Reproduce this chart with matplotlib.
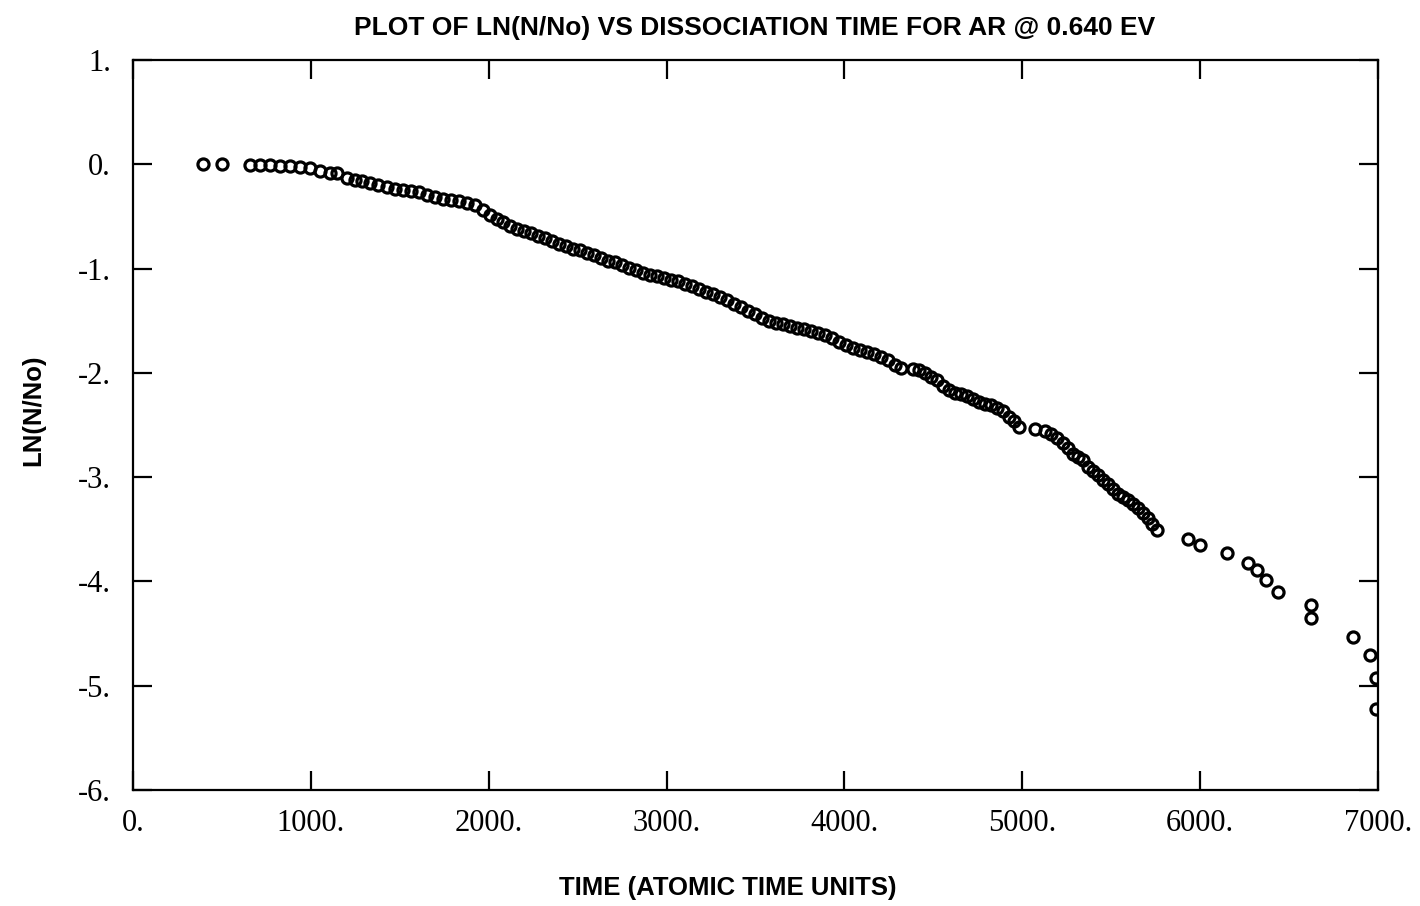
import numpy as np
import matplotlib
matplotlib.use('Agg')
import matplotlib.pyplot as plt

# Время диссоциации (атомные единицы времени)
time_au = [395, 500,
           660, 715, 770, 825, 880, 940, 995, 1050, 1105, 1145,
           1205, 1248, 1287, 1332, 1377, 1428, 1473, 1518, 1563, 1608,
           1653, 1698, 1743, 1788, 1832, 1877, 1922, 1967, 2007, 2046,
           2080, 2119, 2158, 2198, 2237, 2277, 2316, 2355, 2395, 2434,
           2473, 2513, 2552, 2591, 2631, 2670, 2709, 2749, 2788, 2827,
           2867, 2906, 2945, 2985, 3024, 3063, 3103, 3142, 3181, 3221,
           3260, 3300, 3339, 3378, 3418, 3457, 3496, 3536, 3575, 3614,
           3654, 3693, 3732, 3772, 3811, 3850, 3890, 3929, 3968, 4008,
           4047, 4086, 4126, 4165, 4205, 4244, 4283, 4317,
           4384, 4418, 4452, 4486, 4519, 4553, 4587, 4620, 4654, 4688,
           4722, 4755, 4789, 4823, 4857, 4890, 4924, 4952, 4980,
           5070, 5126, 5160, 5194, 5228, 5256, 5284, 5312, 5340, 5368,
           5396, 5424, 5452, 5480, 5509, 5537, 5565, 5593, 5621, 5649,
           5677, 5705, 5728, 5756,
           5930, 5998, 6149, 6267, 6318, 6369, 6436, 6622, 6622, 6858,
           6953, 6987, 6990]

# ln(N/No)
ln_ratio = [0.0, 0.0,
            -0.01, -0.01, -0.01, -0.02, -0.02, -0.03, -0.04, -0.06, -0.08, -0.08,
            -0.13, -0.15, -0.16, -0.18, -0.20, -0.22, -0.24, -0.25, -0.26, -0.27,
            -0.29, -0.31, -0.33, -0.34, -0.35, -0.37, -0.39, -0.44, -0.49, -0.52,
            -0.55, -0.59, -0.62, -0.64, -0.66, -0.69, -0.71, -0.74, -0.76, -0.78,
            -0.81, -0.82, -0.85, -0.87, -0.90, -0.93, -0.94, -0.97, -0.99, -1.01,
            -1.04, -1.06, -1.07, -1.09, -1.11, -1.12, -1.15, -1.17, -1.20, -1.22,
            -1.24, -1.27, -1.30, -1.34, -1.37, -1.41, -1.44, -1.47, -1.50, -1.52,
            -1.53, -1.55, -1.57, -1.58, -1.60, -1.62, -1.64, -1.67, -1.70, -1.73,
            -1.76, -1.78, -1.80, -1.82, -1.85, -1.88, -1.92, -1.95,
            -1.96, -1.97, -2.00, -2.04, -2.07, -2.13, -2.16, -2.19, -2.20, -2.22,
            -2.25, -2.28, -2.30, -2.31, -2.34, -2.37, -2.42, -2.46, -2.52,
            -2.54, -2.56, -2.59, -2.62, -2.67, -2.72, -2.78, -2.81, -2.84, -2.90,
            -2.94, -2.98, -3.03, -3.07, -3.11, -3.16, -3.19, -3.22, -3.26, -3.30,
            -3.34, -3.39, -3.45, -3.51,
            -3.59, -3.65, -3.73, -3.82, -3.89, -3.99, -4.10, -4.23, -4.35, -4.53,
            -4.71, -4.93, -5.22]

x_ticks = [0, 1000, 2000, 3000, 4000, 5000, 6000, 7000]
x_tick_labels = ['0.', '1000.', '2000.', '3000.', '4000.', '5000.', '6000.', '7000.']
y_ticks = [1, 0, -1, -2, -3, -4, -5, -6]
y_tick_labels = ['1.', '0.', '-1.', '-2.', '-3.', '-4.', '-5.', '-6.']

fig = plt.figure(figsize=(14.2, 9.06), dpi=100)
ax = fig.add_axes([0.0937, 0.128, 0.8767, 0.8058])

ax.plot(time_au, ln_ratio, linestyle='none', marker='o', markersize=8,
        markerfacecolor='none', markeredgecolor='black', markeredgewidth=2.3,
        clip_on=True)

ax.set_xlim(0, 7000)
ax.set_ylim(-6, 1)

ax.set_xticks(x_ticks)
ax.set_xticklabels(x_tick_labels)
ax.set_yticks(y_ticks)
ax.set_yticklabels(y_tick_labels)

ax.tick_params(direction='in', length=14, width=1.6, colors='black',
               top=True, right=True, labelsize=22, pad=14)
ax.tick_params(axis='y', pad=16)
for lab in ax.get_xticklabels() + ax.get_yticklabels():
    lab.set_family('Liberation Serif')

for s in ax.spines.values():
    s.set_linewidth(1.6)

fig.text(755 / 1420, 1 - 28 / 906,
         'PLOT OF LN(N/No) VS DISSOCIATION TIME FOR AR @ 0.640 EV',
         ha='center', va='center', fontsize=19, fontweight='bold',
         family='Liberation Sans')
fig.text(728 / 1420, 1 - 888 / 906, 'TIME (ATOMIC TIME UNITS)',
         ha='center', va='center', fontsize=18.5, fontweight='bold',
         family='Liberation Sans')
fig.text(33 / 1420, 1 - 410 / 906, 'LN(N/No)', rotation=90,
         ha='center', va='center', fontsize=18.5, fontweight='bold',
         family='Liberation Sans')

fig.savefig('out.png', dpi=100)
